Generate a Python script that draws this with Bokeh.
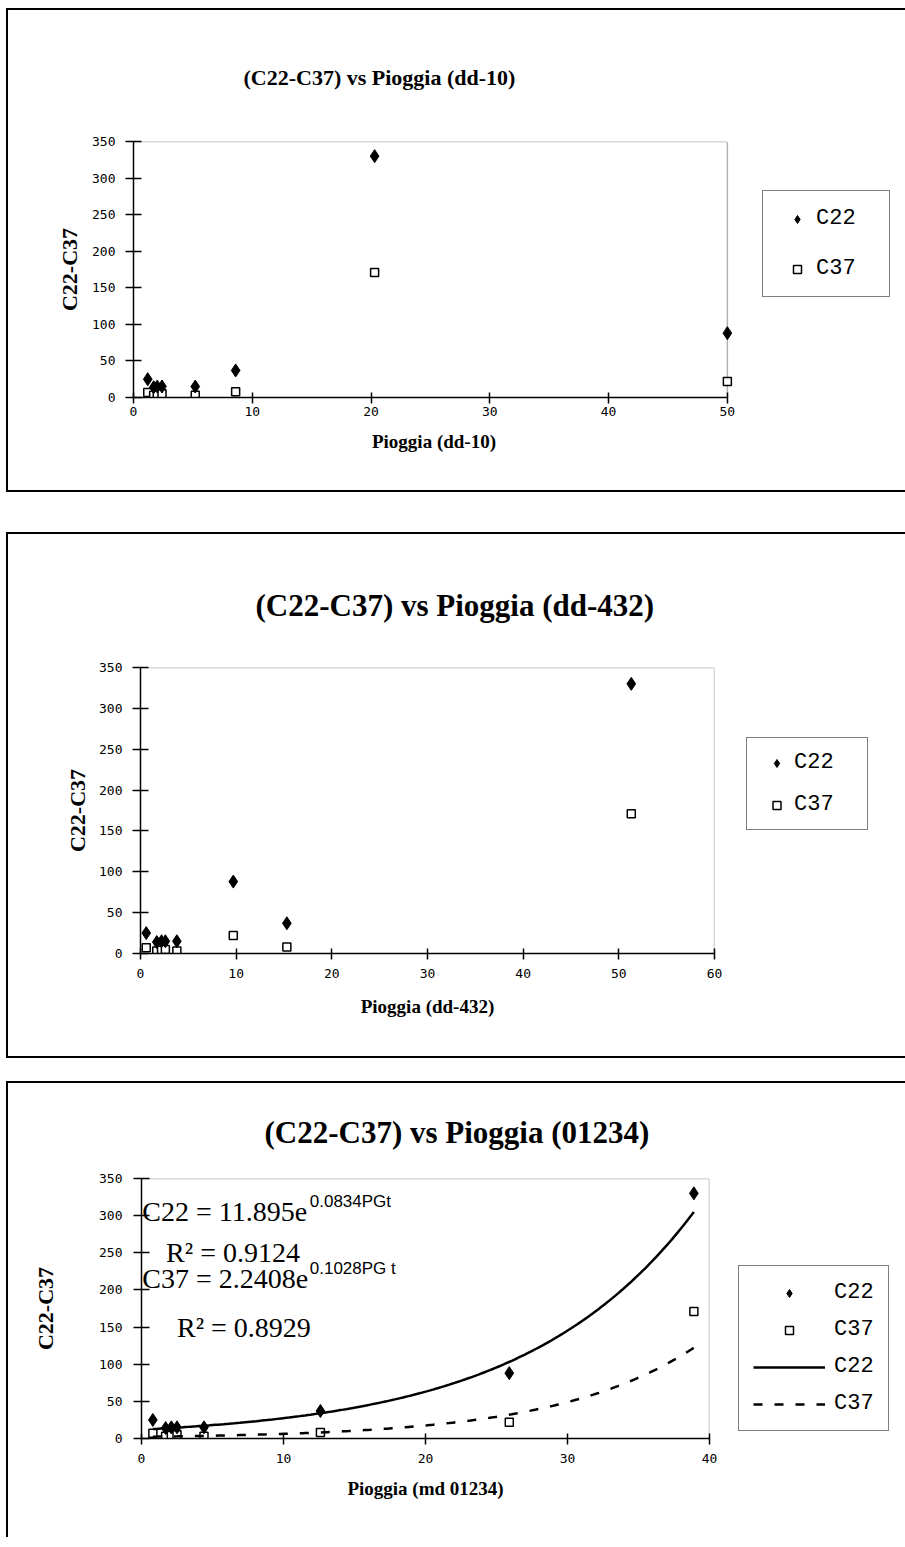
import numpy as np
from bokeh.plotting import figure
from bokeh.models import FixedTicker, Label, Legend, LegendItem, Spacer, Range1d, Title
from bokeh.layouts import column, row
from bokeh.embed import file_html
from bokeh.resources import INLINE

# ---------------- data ----------------
c22 = [25, 14, 15, 15, 15, 88, 37, 330]
c37 = [7, 3, 4, 5, 3, 22, 8, 171]
pioggia_dd10 = [1.2, 1.7, 2.0, 2.4, 5.2, 50.0, 8.6, 20.3]
pioggia_dd432 = [0.6, 1.7, 2.2, 2.6, 3.8, 9.7, 15.3, 51.3]
pioggia_01234 = [0.8, 1.7, 2.1, 2.5, 4.4, 25.9, 12.6, 38.9]

y_ticks = [0, 50, 100, 150, 200, 250, 300, 350]
x_ticks_dd10 = [0, 10, 20, 30, 40, 50]
x_ticks_dd432 = [0, 10, 20, 30, 40, 50, 60]
x_ticks_01234 = [0, 10, 20, 30, 40]

titles = ["(C22-C37) vs Pioggia (dd-10)",
          "(C22-C37) vs Pioggia (dd-432)",
          "(C22-C37) vs Pioggia (01234)"]
x_labels = ["Pioggia (dd-10)", "Pioggia (dd-432)", "Pioggia (md 01234)"]
y_label = "C22-C37"
series_names = ["C22", "C37"]

# exponential trend lines shown on the third chart
trend_c22 = (11.895, 0.0834)
trend_c37 = (2.2408, 0.1028)
eq_c22 = "C22 = 11.895e"
eq_c22_exp = "0.0834PGt"
r2_c22 = "R\u00b2 = 0.9124"
eq_c37 = "C37 = 2.2408e"
eq_c37_exp = "0.1028PG t"
r2_c37 = "R\u00b2 = 0.8929"

SERIF = "Liberation Serif"
NUM = "DejaVu Sans Mono"
LEGF = "Liberation Mono"
YMAX = 350

SQ = dict(marker="square", size=8, fill_color="white", line_color="black", line_width=1.5)
DM = dict(marker="diamond", size=13, fill_color="black", line_color="black")
SOLID = dict(line_color="black", line_width=2.5)
DASH = dict(line_color="black", line_width=2.5, line_dash="9 12")

tx = np.linspace(min(pioggia_01234), max(pioggia_01234), 200)
fit_c22 = trend_c22[0] * np.exp(trend_c22[1] * tx)
fit_c37 = trend_c37[0] * np.exp(trend_c37[1] * tx)


def panel(xs, xmax, xpad, xticks, title, xlabel, w, h, mb, t_cfg, xl_std, yl_std, borders):
    p = figure(width=w, height=h, x_range=Range1d(0, xmax + xpad), y_range=Range1d(0, YMAX),
               output_backend="svg", toolbar_location=None,
               min_border_left=mb[0], min_border_right=mb[1],
               min_border_top=mb[2], min_border_bottom=mb[3])
    p.grid.visible = False
    p.outline_line_color = None
    p.background_fill_color = "white"
    p.border_fill_color = "white"
    p.styles = {b: "2px solid black" for b in borders}

    p.xaxis.ticker = FixedTicker(ticks=xticks)
    p.yaxis.ticker = FixedTicker(ticks=y_ticks)
    p.xaxis.bounds = (0, xmax)
    for ax in (p.xaxis[0], p.yaxis[0]):
        ax.axis_line_color = "black"
        ax.axis_line_width = 1.5
        ax.major_tick_line_color = "black"
        ax.major_tick_line_width = 1.5
        ax.minor_tick_line_color = None
        ax.major_label_text_font = NUM
        ax.major_label_text_font_size = "13px"
        ax.major_label_text_color = "black"
        ax.axis_label_text_font = SERIF
        ax.axis_label_text_font_style = "bold"
        ax.axis_label_text_color = "black"
    p.xaxis.axis_label_text_font_size = "19px"
    p.yaxis.axis_label_text_font_size = "22px"
    p.xaxis.major_tick_in = 5
    p.xaxis.major_tick_out = 6
    p.yaxis.major_tick_in = 8
    p.yaxis.major_tick_out = 8
    p.xaxis.axis_label = xlabel
    p.yaxis.axis_label = y_label
    p.xaxis.major_label_standoff = xl_std[0]
    p.xaxis.axis_label_standoff = xl_std[1]
    p.yaxis.major_label_standoff = yl_std[0]
    p.yaxis.axis_label_standoff = yl_std[1]

    # dotted plot-area border (top and right)
    p.segment(x0=[0, xmax], y0=[YMAX, 0], x1=[xmax, xmax], y1=[YMAX, YMAX],
              line_color="#666666", line_dash="1 1", line_width=1.5)

    p.scatter(xs, c37, **SQ)
    p.scatter(xs, c22, **DM)

    p.add_layout(Title(text=title, align="left", offset=t_cfg[0], standoff=t_cfg[1],
                       text_font=SERIF, text_font_style="bold", text_font_size=t_cfg[2],
                       text_color="black"), "above")
    return p


def legend_fig(xs, w, h, mb_top, mb_bottom, borders, with_lines, loc, pad, spacing, gw, lw,
               standoff):
    # separate narrow figure that only carries the legend, to the right of the plot
    # (its ranges exclude all data, so only the legend samples are visible)
    lf = figure(width=w, height=h, x_range=Range1d(0, 0.1), y_range=Range1d(0, 0.1),
                output_backend="svg", toolbar_location=None,
                x_axis_location=None, y_axis_location=None,
                min_border_left=0, min_border_right=0,
                min_border_top=mb_top, min_border_bottom=mb_bottom)
    lf.grid.visible = False
    lf.outline_line_color = None
    lf.background_fill_color = "white"
    lf.border_fill_color = "white"
    lf.styles = {b: "2px solid black" for b in borders}
    r22 = lf.scatter(xs, c22, **DM)
    r37 = lf.scatter(xs, c37, **SQ)
    items = [LegendItem(label=series_names[0], renderers=[r22]),
             LegendItem(label=series_names[1], renderers=[r37])]
    if with_lines:
        l22 = lf.line(tx, fit_c22, **SOLID)
        l37 = lf.line(tx, fit_c37, **DASH)
        items += [LegendItem(label=series_names[0], renderers=[l22]),
                  LegendItem(label=series_names[1], renderers=[l37])]
    leg = Legend(items=items, location=loc, padding=pad, spacing=spacing,
                 glyph_width=gw, glyph_height=20, label_height=20, label_width=lw,
                 label_standoff=standoff, margin=0,
                 border_line_color="black", border_line_width=1.5,
                 background_fill_color="white", background_fill_alpha=1,
                 label_text_font=LEGF, label_text_font_size="22px", label_text_color="black")
    lf.add_layout(leg)
    return lf


# ---------------- panel 1 ----------------
p1 = panel(pioggia_dd10, 50, 0.6, x_ticks_dd10, titles[0], x_labels[0],
           747, 484, (125, 21, 131, 97), (110, 104, "22px"), (3, 12), (10, 7),
           ["border-left", "border-top", "border-bottom"])
lf1 = legend_fig(pioggia_dd10, 152, 484, 131, 97, ["border-top", "border-bottom"], False,
                 (9, 100), 15, 25, 38, 58, 0)

# ---------------- panel 2 ----------------
p2 = panel(pioggia_dd432, 60, 0, x_ticks_dd432, titles[1], x_labels[1],
           727, 526, (132, 21, 133, 107), (115, 89, "31px"), (9, 15), (10, 6),
           ["border-left", "border-top", "border-bottom"])
lf2 = legend_fig(pioggia_dd432, 172, 526, 133, 107, ["border-top", "border-bottom"], False,
                 (13, 123), 12, 17, 35, 61, 0)

# ---------------- panel 3 ----------------
p3 = panel(pioggia_01234, 40, 0, x_ticks_01234, titles[2], x_labels[2],
           722, 456, (133, 21, 94, 101), (123, 58, "31px"), (9, 12), (11, 38),
           ["border-left", "border-top"])
p3.line(tx, fit_c22, **SOLID)
p3.line(tx, fit_c37, **DASH)
lf3 = legend_fig(pioggia_01234, 177, 456, 94, 101, ["border-top"], True,
                 (10, 7), 14, 12, 72, 40, 9)

eq_font = "28px"
sup_font = "17px"
for (tx_, ty_, txt, size, font) in [(0.05, 305.4, eq_c22, eq_font, SERIF),
                                   (11.85, 318.8, eq_c22_exp, sup_font, "Liberation Sans"),
                                   (1.73, 250.6, r2_c22, eq_font, SERIF),
                                   (0.05, 215.8, eq_c37, eq_font, SERIF),
                                   (11.85, 229.2, eq_c37_exp, sup_font, "Liberation Sans"),
                                   (2.5, 148.9, r2_c37, eq_font, SERIF)]:
    p3.add_layout(Label(x=tx_, y=ty_, text=txt, text_align="left", text_baseline="middle",
                        text_font=font, text_font_size=size, text_color="black"))

layout = column(Spacer(height=8), row(Spacer(width=6), p1, lf1, spacing=0), Spacer(height=40),
                row(Spacer(width=6), p2, lf2, spacing=0), Spacer(height=23),
                row(Spacer(width=6), p3, lf3, spacing=0), spacing=0)
open("out.html", "w").write(file_html(layout, INLINE))
